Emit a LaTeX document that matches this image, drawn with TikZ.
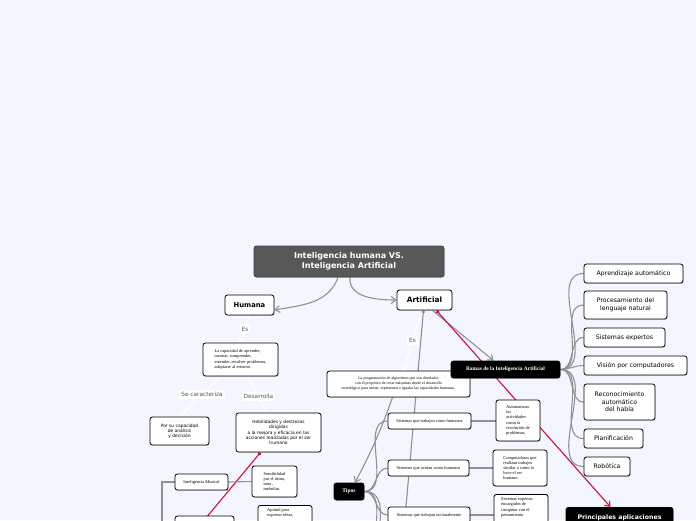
\documentclass[tikz,border=0pt]{standalone}
\usepackage{fontspec}
\setmainfont{Liberation Serif}
\newfontfamily\vsans{DejaVu Sans}
\usetikzlibrary{arrows.meta,shadows}
\pgfdeclarelayer{back}
\pgfdeclarelayer{edges}
\pgfsetlayers{back,edges,main}
\definecolor{paper}{RGB}{243,246,255}
\definecolor{titlegray}{RGB}{88,88,88}
\definecolor{linkgray}{RGB}{145,145,145}
\definecolor{linkred}{RGB}{208,16,58}
\definecolor{lbltext}{RGB}{85,85,85}

\begin{document}
\begin{tikzpicture}[x=1pt,y=-1pt,
  box/.style={draw=black,line width=.8pt,rounded corners=2.5pt,fill=white,align=center,inner sep=1pt,
    drop shadow={shadow xshift=.7pt,shadow yshift=-.9pt,opacity=.3}},
  darkbox/.style={box,fill=black,text=white},
  titlebox/.style={box,fill=titlegray,draw=titlegray!70!black,text=white,font=\vsans\bfseries\fontsize{8}{9.4}\selectfont},
  tiny/.style={font=\fontsize{4.4}{5.2}\selectfont},
  small/.style={font=\vsans\fontsize{4.4}{5.2}\selectfont},
  rama/.style={box,font=\vsans\fontsize{6.2}{7.6}\selectfont},
  lbl/.style={fill=white,text=lbltext,inner sep=2pt,font=\vsans\fontsize{5.8}{7}\selectfont},
  link/.style={draw=linkgray,line width=1.1pt},
  wlink/.style={draw=white,line width=1.1pt},
  redlink/.style={draw=linkred,line width=1.1pt},
  tip/.style={-{Straight Barb[length=4.5pt,width=7pt]}}]
\begin{pgfonlayer}{back}
\fill[paper] (0,0) rectangle (696,520);
\end{pgfonlayer}
\useasboundingbox (0,0) rectangle (696,520);

\node[titlebox,minimum width=190,minimum height=31] (titulo) at (349,261.5) {Inteligencia humana VS.\\ Inteligencia Artificial};
\node[box,font=\vsans\bfseries\fontsize{6.8}{8}\selectfont,minimum width=49,minimum height=20] (humana) at (249.5,305) {Humana};
\node[box,font=\vsans\bfseries\fontsize{7.4}{9}\selectfont,minimum width=55,minimum height=20] (artificial) at (424.5,300) {Artificial};

\node[box,tiny,align=left,minimum width=75,minimum height=33] (hdesc) at (240.5,359.5) {La capacidad de aprender,\\ razonar, comprender,\\ entender, resolver problemas,\\ adaptarse al entorno.};
\node[box,small,minimum width=59,minimum height=28] (caract) at (179.5,431) {Por su capacidad\\ de análisis\\ y decisión};
\node[box,small,minimum width=85,minimum height=39] (habil) at (278.5,432.5) {Habilidades y destrezas\\ dirigidas\\ a la mejora y eficacia en las\\ acciones realizadas por el ser\\ humano};
\node[box,tiny,minimum width=53,minimum height=16] (musical) at (201.5,482) {Inteligencia Musical};
\node[box,tiny,align=left,minimum width=45,minimum height=31] (sensib) at (274.5,481.5) {Sensibilidad\\ por el ritmo,\\ tono ,\\ melodías.};
\node[box,tiny,minimum width=59,minimum height=24] (otra) at (204.5,528) {};
\node[box,minimum width=54,minimum height=34,anchor=north] (aptitud) at (285,505) {};
\node[tiny,align=left,anchor=north west,inner sep=0pt] (aptitudtxt) at (267,508.5) {Aptitud para\\ expresar ideas,};

\node[box,tiny,font=\fontsize{4}{5}\selectfont,minimum width=143,minimum height=26] (prog) at (398.5,384) {La programación de algoritmos que son diseñados\\ con el propósito de crear máquinas desde el desarrollo\\ tecnológico para imitar, representar e igualar las capacidades humanas.};
\node[darkbox,font=\bfseries\fontsize{5.6}{7}\selectfont,minimum width=30,minimum height=17] (tipos) at (349,491.5) {Tipos};
\node[box,tiny,minimum width=83,minimum height=16] (s1) at (429.5,421) {Sistemas que trabajan como humanos};
\node[box,tiny,minimum width=81,minimum height=16] (s2) at (428.5,468) {Sistemas que actúan como humanos};
\node[box,tiny,minimum width=82,minimum height=16] (s3) at (429,515) {Sistemas que trabajan racionalmente};
\node[box,tiny,align=left,minimum width=44,minimum height=41] (r1) at (518,420.5) {Automatizan\\ las\\ actividades\\ como la\\ resolución de\\ problemas.};
\node[box,tiny,align=left,minimum width=54,minimum height=36] (r2) at (520,468) {Computadoras que\\ realizan trabajos\\ similar a como lo\\ hace el ser\\ humano.};
\node[box,minimum width=54,minimum height=40,anchor=north] (r3) at (521,494) {};
\node[tiny,align=left,anchor=north west,inner sep=0pt] (r3txt) at (501,497.5) {Sistemas expertos\\ encargados de\\ computar con el\\ pensamiento};

\node[darkbox,font=\bfseries\fontsize{5.4}{7}\selectfont,minimum width=109,minimum height=17] (ramas) at (505.5,369.5) {Ramas de la Inteligencia Artificial};
\node[rama,minimum width=99,minimum height=19] (a1) at (633.5,273.5) {Aprendizaje automático};
\node[rama,minimum width=83,minimum height=28] (a2) at (625.5,305) {Procesamiento del\\ lenguaje natural};
\node[rama,minimum width=81,minimum height=19] (a3) at (624.5,337.5) {Sistemas expertos};
\node[rama,minimum width=103,minimum height=19] (a4) at (635.5,365.5) {Visión por computadores};
\node[rama,minimum width=71,minimum height=36] (a5) at (619.5,402) {Reconocimiento\\ automático\\ del habla};
\node[rama,minimum width=59,minimum height=19] (a6) at (613.5,438.5) {Planificación};
\node[rama,minimum width=46,minimum height=19] (a7) at (607,466.5) {Robótica};
\node[darkbox,font=\vsans\bfseries\fontsize{6.2}{7.6}\selectfont,minimum width=107,minimum height=20,anchor=north] (aplic) at (619.5,507) {Principales aplicaciones};

\coordinate (bajoA) at (403,540);
\coordinate (bajoRojo) at (196,530);
\coordinate (bajoMus) at (162,560);
\coordinate (t4) at (388,560);
\coordinate (t5) at (388,600);

\begin{pgfonlayer}{edges}
\draw[link,tip] ([xshift=-11]titulo.south) to[out=-110,in=10] ([yshift=-5]humana.east);
\draw[link,tip] ([xshift=1]titulo.south) to[out=-95,in=180] (artificial.west);
\draw[wlink,tip] (humana.south) -- node[lbl]{Es} (hdesc.north);
\draw[wlink] ([xshift=-20]hdesc.south) -- node[lbl,pos=.45]{Se caracteriza} (caract.north);
\draw[wlink] ([xshift=8]hdesc.south) -- node[lbl,pos=.55]{Desarrolla} ([xshift=-12]habil.north);
\draw[redlink,{Circle[length=3.5pt]}-] ([xshift=-18]habil.south) -- (bajoRojo);
\draw[link] (bajoMus) |- (musical.west);
\draw[link] (bajoMus) |- (otra.west);
\draw[link] (musical.east) -- (sensib.west);
\draw[wlink,tip] ([xshift=-3]artificial.south) -- node[lbl]{Es} ([xshift=5]prog.north);
\draw[link,{Circle[length=3pt]}-] ([xshift=-1]artificial.south) -- (bajoA);
\draw[link,{Circle[length=3pt]}-,tip] ([xshift=-6]prog.south) to[bend left=4] ([xshift=6]tipos.north);
\foreach \n in {s1,s2,s3,t4,t5}
  \draw[link] (tipos.east) to[out=0,in=180] (\n);
\draw[link] (s1.east) -- (r1.west|-s1.east);
\draw[link] (s2.east) -- (r2.west|-s2.east);
\draw[link] (s3.east) -- (r3.west|-s3.east);
\draw[link,tip] ([xshift=8]artificial.south) -- ([xshift=-12]ramas.north);
\draw[redlink,{Circle[length=3.5pt]}-{Straight Barb[length=4.5pt,width=7pt]}] ([xshift=12]artificial.south) -- ([xshift=-9]aplic.north);
\foreach \n in {a1,a2,a3,a4,a5,a6,a7}
  \draw[link] (ramas.east) to[out=0,in=180] (\n.west);
\end{pgfonlayer}
\end{tikzpicture}
\end{document}
